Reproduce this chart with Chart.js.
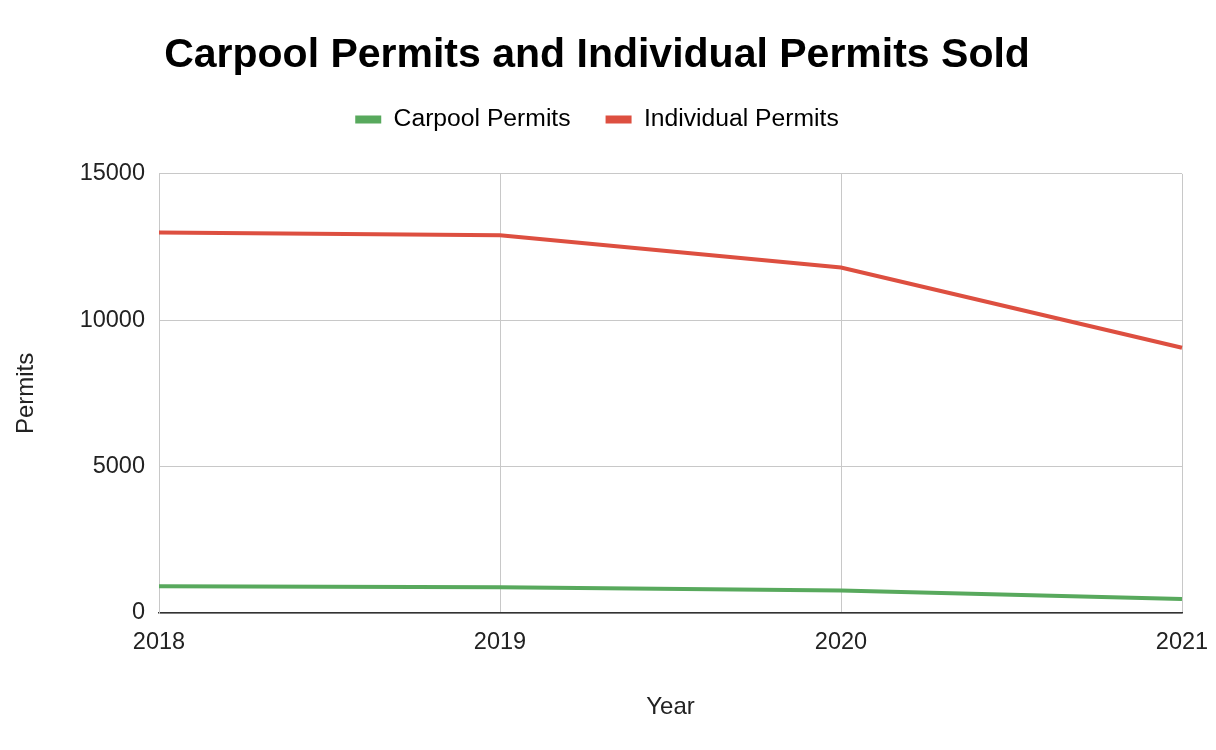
<!DOCTYPE html>
<html>
<head>
<meta charset="utf-8">
<title>Carpool Permits and Individual Permits Sold</title>
<script src="https://cdn.jsdelivr.net/npm/chart.js@4.4.1/dist/chart.umd.min.js"></script>
<style>
  html, body { margin: 0; padding: 0; background: #fff; }
  #wrap { width: 1216px; height: 750px; }
</style>
</head>
<body>
<div id="wrap"><canvas id="permitsChart" width="1216" height="750"></canvas></div>
<script>
// values
const years = ['2018', '2019', '2020', '2021'];
const carpoolPermits = [910, 880, 770, 480];
const individualPermits = [13000, 12900, 11800, 9060];
const yTicks = [0, 5000, 10000, 15000];

const fontFamily = '"Liberation Sans", Arial, Helvetica, sans-serif';
const gridColor = '#c8c8c8';

// push the plot down below the legend
const legendGap = {
  id: 'legendGap',
  beforeInit(chart) {
    const originalFit = chart.legend.fit;
    chart.legend.fit = function fit() {
      originalFit.bind(chart.legend)();
      this.height += 32;
    };
  }
};

const ctx = document.getElementById('permitsChart');
const chart = new Chart(ctx, {
  type: 'line',
  data: {
    labels: years,
    datasets: [
      {
        label: 'Carpool Permits',
        data: carpoolPermits,
        borderColor: '#58a95d',
        backgroundColor: '#58a95d',
        borderWidth: 4,
        pointRadius: 0,
        tension: 0
      },
      {
        label: 'Individual Permits',
        data: individualPermits,
        borderColor: '#dd4f40',
        backgroundColor: '#dd4f40',
        borderWidth: 4,
        pointRadius: 0,
        tension: 0
      }
    ]
  },
  options: {
    responsive: false,
    animation: false,
    layout: {
      padding: { top: 0, left: 12, right: 34, bottom: 28 }
    },
    plugins: {
      title: {
        display: true,
        text: 'Carpool Permits and Individual Permits Sold',
        color: '#000',
        font: { family: fontFamily, size: 41, weight: 'bold' },
        padding: { top: 31, bottom: -8 }
      },
      legend: {
        position: 'top',
        labels: {
          color: '#222',
          font: { family: fontFamily, size: 24.7 },
          boxWidth: 26,
          boxHeight: 8,
          padding: 35,
          generateLabels(chart) {
            return chart.data.datasets.map((ds, i) => ({
              text: ds.label,
              fillStyle: ds.borderColor,
              strokeStyle: ds.borderColor,
              lineWidth: 0,
              hidden: !chart.isDatasetVisible(i),
              datasetIndex: i
            }));
          }
        }
      },
      tooltip: { enabled: false }
    },
    scales: {
      x: {
        offset: false,
        afterFit(scale) {
          scale.paddingLeft = 0;
          scale.paddingRight = 0;
        },
        grid: { color: gridColor, lineWidth: 1, drawTicks: false },
        border: { color: '#333', width: 1.5 },
        ticks: {
          color: '#222',
          font: { family: fontFamily, size: 23.5 },
          padding: 15,
          maxRotation: 0
        },
        title: {
          display: true,
          text: 'Year',
          color: '#222',
          font: { family: fontFamily, size: 24 },
          padding: { top: 22, bottom: 0 }
        }
      },
      y: {
        min: 0,
        max: 15000,
        afterFit(scale) { scale.width = 147; },
        afterBuildTicks(scale) { scale.ticks = yTicks.map(v => ({ value: v })); },
        grid: { color: gridColor, lineWidth: 1, drawTicks: false },
        border: { color: gridColor, width: 1 },
        ticks: {
          color: '#222',
          font: { family: fontFamily, size: 23.5 },
          padding: 14,
          callback: v => String(v)
        },
        title: {
          display: true,
          text: 'Permits',
          color: '#222',
          font: { family: fontFamily, size: 24 },
          padding: 0
        }
      }
    }
  },
  plugins: [legendGap]
});
</script>
</body>
</html>
